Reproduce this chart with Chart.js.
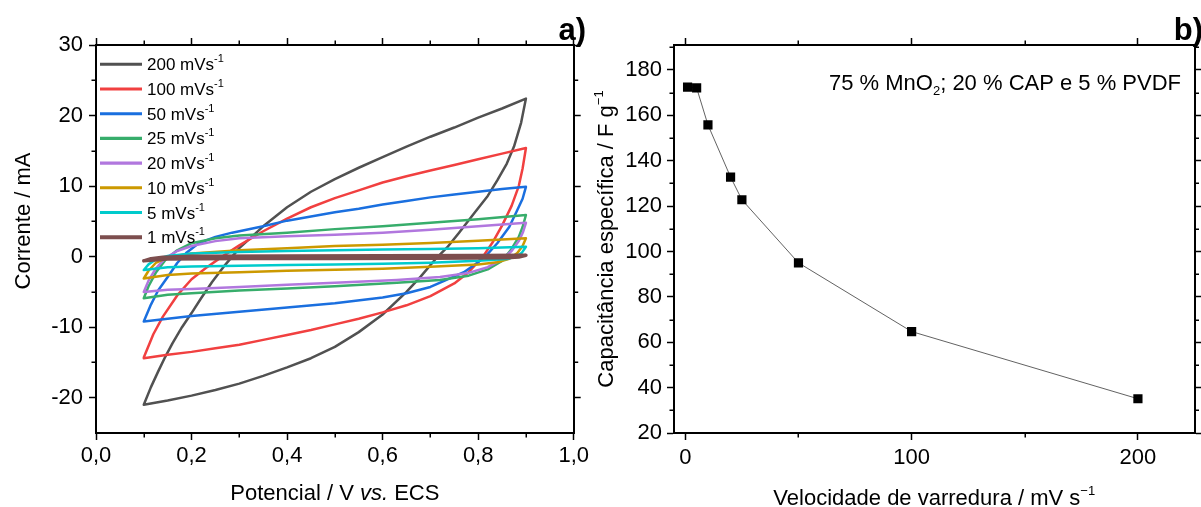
<!DOCTYPE html>
<html>
<head>
<meta charset="utf-8">
<script src="https://cdn.jsdelivr.net/npm/chart.js@4.4.1/dist/chart.umd.min.js"></script>
<style>
  html, body { margin: 0; padding: 0; background: #fff; }
  #wrap { position: relative; width: 1201px; height: 507px; overflow: hidden; }
  canvas { position: absolute; top: 0; }
  #cv { left: 0; }
  #cap { left: 592px; }
</style>
</head>
<body>
<div id="wrap">
  <canvas id="cv" width="592" height="507"></canvas>
  <canvas id="cap" width="609" height="507"></canvas>
</div>
<script>
// ---- panel a) cyclic voltammograms, [potential V, current mA], anodic then cathodic sweep ----
const scanRates = [200, 100, 50, 25, 20, 10, 5, 1];
const colors = ['#515151', '#F14040', '#1A6FDF', '#37AD6B', '#B177DE', '#CC9900', '#00CBCC', '#7D4E4E'];

const cv200 = [
  [0.1, -21.0], [0.115, -18.5], [0.13, -16.3], [0.145, -14.2], [0.16, -12.3], [0.18, -10.0], [0.2, -8.0],
  [0.22, -5.9], [0.243, -3.6], [0.27, -1.2], [0.3, 1.2], [0.35, 4.3], [0.4, 7.0], [0.45, 9.2], [0.5, 11.0],
  [0.55, 12.6], [0.6, 14.1], [0.65, 15.6], [0.7, 17.0], [0.75, 18.3], [0.8, 19.7], [0.85, 21.0], [0.9, 22.4],
  [0.89, 19.0], [0.875, 15.6], [0.86, 13.2], [0.84, 10.8], [0.82, 8.6], [0.79, 6.0], [0.76, 3.4], [0.735, 1.3],
  [0.71, -0.4], [0.68, -2.8], [0.65, -5.0], [0.6, -8.2], [0.55, -10.7], [0.5, -12.8], [0.45, -14.4],
  [0.4, -15.7], [0.35, -16.9], [0.3, -18.0], [0.25, -18.9], [0.2, -19.7], [0.15, -20.4], [0.1, -21.0]
];
const cv100 = [
  [0.1, -14.3], [0.12, -11.0], [0.14, -8.5], [0.17, -5.5], [0.2, -3.2], [0.23, -1.6], [0.264, 0.0],
  [0.3, 1.6], [0.35, 3.6], [0.4, 5.4], [0.45, 7.0], [0.5, 8.3], [0.55, 9.4], [0.6, 10.5], [0.65, 11.4],
  [0.7, 12.2], [0.75, 13.0], [0.8, 13.8], [0.85, 14.6], [0.9, 15.4],
  [0.893, 12.5], [0.885, 10.0], [0.87, 7.2], [0.85, 4.4], [0.83, 2.0], [0.81, 0.0], [0.78, -2.2],
  [0.75, -3.8], [0.7, -5.6], [0.65, -6.9], [0.6, -7.9], [0.55, -8.8], [0.5, -9.6], [0.45, -10.4],
  [0.4, -11.1], [0.35, -11.8], [0.3, -12.5], [0.25, -13.0], [0.2, -13.5], [0.15, -13.9], [0.1, -14.4]
];
const cv50 = [
  [0.1, -9.2], [0.115, -6.8], [0.13, -4.8], [0.153, -2.6], [0.17, -0.9], [0.19, 0.6], [0.215, 1.9],
  [0.25, 2.8], [0.285, 3.4], [0.35, 4.3], [0.4, 5.1], [0.45, 5.7], [0.5, 6.3], [0.55, 6.8], [0.6, 7.4],
  [0.65, 7.9], [0.7, 8.4], [0.75, 8.8], [0.8, 9.2], [0.85, 9.6], [0.9, 9.9],
  [0.893, 8.2], [0.882, 6.6], [0.865, 4.2], [0.84, 1.9], [0.82, 0.4], [0.8, -0.8], [0.77, -2.2],
  [0.73, -3.4], [0.7, -4.3], [0.65, -5.2], [0.6, -5.8], [0.5, -6.6], [0.4, -7.2], [0.3, -7.8],
  [0.2, -8.4], [0.15, -8.8], [0.1, -9.2]
];
const cv25 = [
  [0.1, -5.9], [0.11, -4.2], [0.125, -2.3], [0.146, -0.4], [0.17, 0.9], [0.2, 1.9], [0.25, 2.6],
  [0.3, 3.0], [0.4, 3.4], [0.5, 3.9], [0.6, 4.3], [0.7, 4.8], [0.8, 5.3], [0.9, 5.9],
  [0.893, 4.2], [0.885, 2.8], [0.868, 0.9], [0.85, -0.6], [0.82, -1.8], [0.78, -2.7], [0.72, -3.3],
  [0.63, -3.7], [0.5, -4.2], [0.4, -4.5], [0.3, -4.8], [0.2, -5.2], [0.15, -5.4], [0.1, -5.9]
];
const cv20 = [
  [0.1, -5.0], [0.11, -3.4], [0.125, -1.7], [0.145, -0.2], [0.17, 0.8], [0.2, 1.5], [0.25, 2.2],
  [0.3, 2.6], [0.4, 2.9], [0.5, 3.1], [0.6, 3.4], [0.7, 3.8], [0.8, 4.3], [0.9, 4.8],
  [0.894, 3.5], [0.885, 2.2], [0.87, 0.8], [0.85, -0.4], [0.82, -1.5], [0.78, -2.3], [0.72, -2.9],
  [0.63, -3.3], [0.5, -3.7], [0.4, -4.0], [0.3, -4.3], [0.2, -4.6], [0.15, -4.7], [0.1, -5.0]
];
const cv10 = [
  [0.1, -3.1], [0.11, -2.0], [0.125, -0.9], [0.15, -0.1], [0.2, 0.45], [0.3, 0.9], [0.4, 1.2],
  [0.5, 1.5], [0.6, 1.7], [0.7, 1.95], [0.8, 2.25], [0.9, 2.6],
  [0.893, 1.5], [0.882, 0.5], [0.865, -0.3], [0.84, -0.8], [0.8, -1.1], [0.7, -1.45], [0.6, -1.7],
  [0.5, -1.85], [0.4, -2.0], [0.3, -2.2], [0.2, -2.4], [0.15, -2.6], [0.1, -3.1]
];
const cv5 = [
  [0.1, -1.9], [0.11, -1.1], [0.125, -0.4], [0.15, 0.1], [0.2, 0.45], [0.3, 0.65], [0.4, 0.8],
  [0.5, 0.9], [0.6, 1.0], [0.7, 1.1], [0.8, 1.2], [0.9, 1.4],
  [0.892, 0.6], [0.88, 0.0], [0.86, -0.35], [0.8, -0.6], [0.7, -0.85], [0.6, -1.0], [0.5, -1.1],
  [0.4, -1.2], [0.3, -1.3], [0.2, -1.4], [0.15, -1.5], [0.1, -1.9]
];
const cv1 = [
  [0.1, -0.6], [0.115, -0.3], [0.14, -0.1], [0.2, 0.05], [0.4, 0.1], [0.6, 0.12], [0.8, 0.15], [0.9, 0.2],
  [0.885, -0.05], [0.86, -0.15], [0.7, -0.22], [0.5, -0.25], [0.3, -0.28], [0.15, -0.35], [0.1, -0.6]
];
const cvLoops = [cv200, cv100, cv50, cv25, cv20, cv10, cv5, cv1];

const potTicks = [0, 0.2, 0.4, 0.6, 0.8, 1.0];
const potMinor = [0.1, 0.3, 0.5, 0.7, 0.9];
const curTicks = [-20, -10, 0, 10, 20, 30];
const curMinor = [-15, -5, 5, 15, 25];

// ---- panel b) specific capacitance vs scan rate ----
const rateX = [1, 5, 10, 20, 25, 50, 100, 200];
const capY = [172.4, 172.1, 155.8, 132.8, 122.8, 95.0, 64.7, 35.1];
const rateTicks = [0, 100, 200];
const rateMinor = [50, 150];
const capTicks = [20, 40, 60, 80, 100, 120, 140, 160, 180];
const capMinor = [30, 50, 70, 90, 110, 130, 150, 170, 190];

const FONT = "'Liberation Sans', Arial, sans-serif";

function axis(pos, min, max, ticks, size, opts = {}) {
  return {
    type: 'linear', position: pos, min, max,
    afterBuildTicks: s => { s.ticks = ticks.map(v => ({ value: v })); },
    afterFit: s => { if (s.isHorizontal()) s.height = size; else s.width = size; },
    grid: { drawOnChartArea: false, drawTicks: true, tickLength: 7, tickWidth: 1.5, tickColor: '#000' },
    border: { display: true, color: '#000', width: 2 },
    ticks: {
      display: opts.labels !== false, font: { family: FONT, size: 22 }, color: '#000',
      padding: opts.pad || 4, maxRotation: 0, autoSkip: false,
      callback: opts.fmt || (v => String(v))
    }
  };
}

// short minor ticks on all four sides, placed through the chart's scales
function minorTicks(map) {
  return {
    id: 'minorTicks',
    afterDraw(chart) {
      const ctx = chart.ctx;
      ctx.save();
      ctx.strokeStyle = '#000';
      ctx.lineWidth = 1.5;
      Object.keys(map).forEach(id => {
        const s = chart.scales[id];
        map[id].forEach(v => {
          const p = Math.round(s.getPixelForValue(v)) + 0.25;
          ctx.beginPath();
          if (s.position === 'bottom') { ctx.moveTo(p, s.top); ctx.lineTo(p, s.top + 4.5); }
          else if (s.position === 'top') { ctx.moveTo(p, s.bottom); ctx.lineTo(p, s.bottom - 4.5); }
          else if (s.position === 'left') { ctx.moveTo(s.right, p); ctx.lineTo(s.right - 4.5, p); }
          else { ctx.moveTo(s.left, p); ctx.lineTo(s.left + 4.5, p); }
          ctx.stroke();
        });
      });
      ctx.restore();
    }
  };
}

function drawRuns(ctx, runs, x, y, align, rot) {
  ctx.save();
  ctx.translate(x, y);
  if (rot) ctx.rotate(rot);
  let w = 0;
  runs.forEach(r => { ctx.font = r.font; w += ctx.measureText(r.text).width; });
  let cx = align === 'center' ? -w / 2 : align === 'right' ? -w : 0;
  ctx.fillStyle = '#000';
  ctx.textBaseline = 'alphabetic';
  ctx.textAlign = 'left';
  runs.forEach(r => {
    ctx.font = r.font;
    ctx.fillText(r.text, cx, r.dy || 0);
    cx += ctx.measureText(r.text).width;
  });
  ctx.restore();
}

const F22 = '22px ' + FONT;
const I22 = 'italic 22px ' + FONT;
const SUP = '13px ' + FONT;

function texts(draw) {
  return { id: 'texts', afterDraw(chart) { draw(chart.ctx, chart.chartArea); } };
}

const cvLegend = {
  id: 'cvLegend',
  afterDraw(chart) {
    const ctx = chart.ctx;
    const a = chart.chartArea;
    chart.data.datasets.forEach((ds, i) => {
      const y = a.top + 19.3 + i * 24.7;
      ctx.save();
      ctx.strokeStyle = ds.borderColor;
      ctx.lineWidth = ds.borderWidth + 0.6;
      ctx.beginPath();
      ctx.moveTo(a.left + 4, y);
      ctx.lineTo(a.left + 46, y);
      ctx.stroke();
      ctx.restore();
      drawRuns(ctx, [
        { text: scanRates[i] + ' mVs', font: '17px ' + FONT },
        { text: '-1', font: '11px ' + FONT, dy: -8 }
      ], a.left + 51, y + 6, 'left');
    });
  }
};

new Chart(document.getElementById('cv'), {
  type: 'line',
  data: {
    datasets: cvLoops.map((loop, i) => ({
      label: scanRates[i] + ' mVs⁻¹',
      data: loop.map(p => ({ x: p[0], y: p[1] })),
      borderColor: colors[i],
      borderWidth: scanRates[i] === 1 ? 3.5 : 2.5,
      borderJoinStyle: 'round',
      borderCapStyle: 'round',
      pointRadius: 0,
      tension: 0,
      fill: false,
      order: cvLoops.length - 1 - i
    }))
  },
  options: {
    responsive: false, animation: false, devicePixelRatio: 1,
    layout: { padding: 0 },
    plugins: { legend: { display: false }, tooltip: { enabled: false } },
    scales: {
      x: axis('bottom', 0, 1, potTicks, 74, { pad: 3, fmt: v => v.toFixed(1).replace('.', ',') }),
      x2: axis('top', 0, 1, potTicks, 45, { labels: false }),
      y: axis('left', -25, 30, curTicks, 96, { pad: 6 }),
      y2: axis('right', -25, 30, curTicks, 16, { labels: false })
    }
  },
  plugins: [
    minorTicks({ x: potMinor, x2: potMinor, y: curMinor, y2: curMinor }),
    cvLegend,
    texts((ctx, a) => {
      const cx = (a.left + a.right) / 2;
      drawRuns(ctx, [{ text: 'Corrente / mA', font: F22 }], 30, 221, 'center', -Math.PI / 2);
      drawRuns(ctx, [
        { text: 'Potencial / V ', font: F22 },
        { text: 'vs.', font: I22 },
        { text: ' ECS', font: F22 }
      ], cx, 500, 'center');
      drawRuns(ctx, [{ text: 'a)', font: 'bold 31px ' + FONT }], 586, 40, 'right');
    })
  ]
});

new Chart(document.getElementById('cap'), {
  type: 'line',
  data: {
    datasets: [{
      label: '75 % MnO2; 20 % CAP e 5 % PVDF',
      data: rateX.map((x, i) => ({ x, y: capY[i] })),
      borderColor: '#3a3a3a',
      borderWidth: 0.8,
      pointStyle: 'rect',
      pointRadius: 6.5,
      pointBackgroundColor: '#000',
      pointBorderWidth: 0,
      tension: 0,
      fill: false
    }]
  },
  options: {
    responsive: false, animation: false, devicePixelRatio: 1,
    layout: { padding: 0 },
    plugins: { legend: { display: false }, tooltip: { enabled: false } },
    scales: {
      x: axis('bottom', -5, 225, rateTicks, 74, { pad: 5 }),
      x2: axis('top', -5, 225, rateTicks, 45, { labels: false }),
      y: axis('left', 20, 191, capTicks, 82, { pad: 5 }),
      y2: axis('right', 20, 191, capTicks, 4, { labels: false })
    }
  },
  plugins: [
    minorTicks({ x: rateMinor, x2: rateMinor, y: capMinor, y2: capMinor }),
    texts((ctx, a) => {
      const cx = (a.left + a.right) / 2, cy = (a.top + a.bottom) / 2;
      drawRuns(ctx, [
        { text: 'Capacitância específica / F g', font: F22 },
        { text: '\u22121', font: SUP, dy: -10 }
      ], 21, cy, 'center', -Math.PI / 2);
      drawRuns(ctx, [
        { text: 'Velocidade de varredura / mV s', font: F22 },
        { text: '\u22121', font: SUP, dy: -10 }
      ], cx, 505, 'center');
      drawRuns(ctx, [
        { text: '75 % MnO', font: '22px ' + FONT },
        { text: '2', font: '13px ' + FONT, dy: 5 },
        { text: '; 20 % CAP e 5 % PVDF', font: '22px ' + FONT }
      ], 237, 90, 'left');
      drawRuns(ctx, [{ text: 'b)', font: 'bold 31px ' + FONT }], 611, 40, 'right');
    })
  ]
});
</script>
</body>
</html>
